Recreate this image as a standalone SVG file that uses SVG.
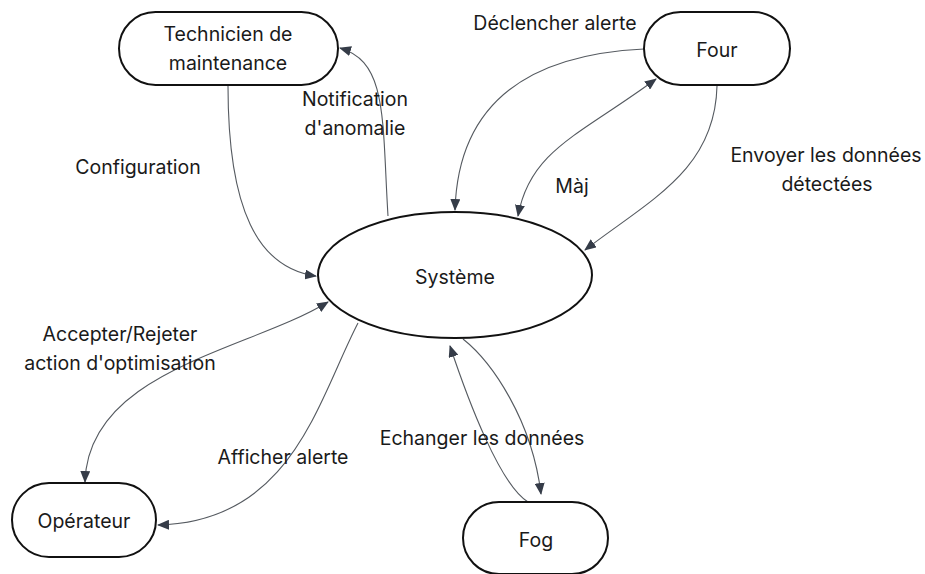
<svg xmlns="http://www.w3.org/2000/svg" width="925" height="574" viewBox="0 0 925 574">
  <style>
    .node { fill: #ffffff; stroke: #111111; stroke-width: 2; }
    .edge { fill: none; stroke: #555a60; stroke-width: 1.1; }
    .label { font-family: Inter, "Noto Sans", "Liberation Sans", sans-serif; font-size: 19.5px; fill: #1a1a1a; text-anchor: middle; dominant-baseline: central; }
  </style>
  <defs>
    <marker id="arrow" viewBox="0 0 12 10" refX="11" refY="5" markerWidth="12" markerHeight="10" markerUnits="userSpaceOnUse" orient="auto-start-reverse">
      <path d="M0,0 L12,5 L0,10 Z" fill="#353c48"/>
    </marker>
  </defs>
  <rect width="925" height="574" fill="#ffffff"/>

  <g id="connectors">
    <!-- Configuration -->
    <path class="edge" d="M228,86 C228,210 258,268 316,276" marker-end="url(#arrow)"/>
    <!-- Notification d'anomalie -->
    <path class="edge" d="M388,216 C382,120 388,62 340,48" marker-end="url(#arrow)"/>
    <!-- Déclencher alerte -->
    <path class="edge" d="M644,49 C520,55 458,110 455,210" marker-end="url(#arrow)"/>
    <!-- Màj -->
    <path class="edge" d="M518,216 C530,150 580,135 656,79" marker-start="url(#arrow)" marker-end="url(#arrow)"/>
    <!-- Envoyer les données détectées -->
    <path class="edge" d="M717,86 C715,170 650,200 585,250" marker-end="url(#arrow)"/>
    <!-- Accepter/Rejeter action d'optimisation -->
    <path class="edge" d="M328,302 C250,350 88,370 85,482" marker-start="url(#arrow)" marker-end="url(#arrow)"/>
    <!-- Afficher alerte -->
    <path class="edge" d="M358,323 C318,400 292,522 158,525" marker-end="url(#arrow)"/>
    <!-- Echanger les données -->
    <path class="edge" d="M528,502 C500,485 468,400 450,346" marker-end="url(#arrow)"/>
    <path class="edge" d="M463,339 C492,362 532,420 541,494" marker-end="url(#arrow)"/>
  </g>

  <g id="technicien">
    <rect class="node" x="119" y="12" width="219" height="73" rx="36.5"/>
    <text class="label" x="228" y="34">Technicien de</text>
    <text class="label" x="228" y="63">maintenance</text>
  </g>
  <g id="four">
    <rect class="node" x="644" y="12" width="146" height="73" rx="36.5"/>
    <text class="label" x="717" y="50">Four</text>
  </g>
  <g id="systeme">
    <ellipse class="node" cx="455" cy="275" rx="137" ry="63"/>
    <text class="label" x="455" y="277">Système</text>
  </g>
  <g id="operateur">
    <rect class="node" x="12" y="483" width="144" height="74" rx="37"/>
    <text class="label" x="84" y="521">Opérateur</text>
  </g>
  <g id="fog">
    <rect class="node" x="463" y="502" width="145" height="72" rx="36"/>
    <text class="label" x="536" y="540">Fog</text>
  </g>

  <g id="edge-labels">
    <text class="label" x="138" y="167">Configuration</text>
    <text class="label" x="355" y="99">Notification</text>
    <text class="label" x="355" y="128">d'anomalie</text>
    <text class="label" x="555" y="23">Déclencher alerte</text>
    <text class="label" x="572" y="186">Màj</text>
    <text class="label" x="826" y="155">Envoyer les données</text>
    <text class="label" x="827" y="184">détectées</text>
    <text class="label" x="120" y="334">Accepter/Rejeter</text>
    <text class="label" x="120" y="363">action d'optimisation</text>
    <text class="label" x="283" y="457">Afficher alerte</text>
    <text class="label" x="482" y="438">Echanger les données</text>
  </g>
</svg>
